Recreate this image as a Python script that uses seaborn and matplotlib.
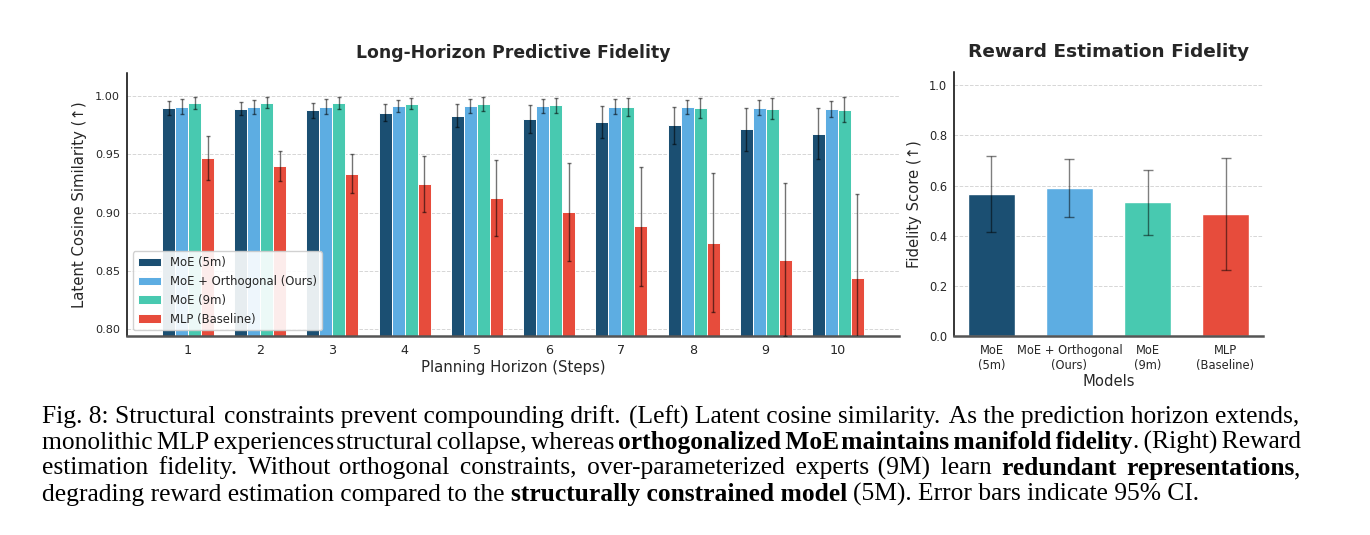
import matplotlib
matplotlib.use("Agg")
import matplotlib.pyplot as plt
import seaborn as sns
import numpy as np
import pandas as pd

# ---------------- data ----------------
steps = ["1", "2", "3", "4", "5", "6", "7", "8", "9", "10"]
models = ["MoE (5m)", "MoE + Orthogonal (Ours)", "MoE (9m)", "MLP (Baseline)"]
colors = ["#1B4F72", "#5DADE2", "#48C9B0", "#E74C3C"]

moe5_sim = [0.9903, 0.9894, 0.9880, 0.9860, 0.9834, 0.9802, 0.9780, 0.9750, 0.9716, 0.9680]
moe5_err = [0.0060, 0.0057, 0.0065, 0.0073, 0.0100, 0.0120, 0.0140, 0.0160, 0.0185, 0.0215]
ortho_sim = [0.9911, 0.9910, 0.9910, 0.9917, 0.9914, 0.9914, 0.9910, 0.9905, 0.9900, 0.9890]
ortho_err = [0.0065, 0.0060, 0.0065, 0.0055, 0.0060, 0.0060, 0.0063, 0.0060, 0.0065, 0.0069]
moe9_sim = [0.9943, 0.9946, 0.9940, 0.9937, 0.9930, 0.9923, 0.9910, 0.9900, 0.9894, 0.9885]
moe9_err = [0.0050, 0.0050, 0.0050, 0.0050, 0.0060, 0.0066, 0.0077, 0.0086, 0.0090, 0.0107]
mlp_sim = [0.9470, 0.9404, 0.9335, 0.9244, 0.9126, 0.9006, 0.8883, 0.8742, 0.8596, 0.8436]
mlp_err = [0.0190, 0.0130, 0.0166, 0.0240, 0.0327, 0.0420, 0.0510, 0.0595, 0.0660, 0.0720]

reward_labels = ["MoE\n(5m)", "MoE + Orthogonal\n(Ours)", "MoE\n(9m)", "MLP\n(Baseline)"]
reward_vals = [0.567, 0.591, 0.533, 0.487]
reward_err = [0.152, 0.116, 0.130, 0.223]

caption_lines = [
    "Fig. 8: Structural constraints prevent compounding drift. (Left) Latent cosine similarity. As the prediction horizon extends,",
    "monolithic MLP experiences structural collapse, whereas **orthogonalized MoE maintains manifold fidelity**. (Right) Reward",
    "estimation fidelity. Without orthogonal constraints, over-parameterized experts (9M) learn **redundant representations**,",
    "degrading reward estimation compared to the **structurally constrained model** (5M). Error bars indicate 95% CI.",
]

# ---------------- style ----------------
sns.set_style("white")
plt.rcParams["font.family"] = ["DejaVu Sans"]

W, H = 1370, 535
fig = plt.figure(figsize=(W / 100, H / 100), dpi=100)
fig.patch.set_facecolor("white")

def fx(px):
    return px / W

def fy(py):
    return 1 - py / H

ax1 = fig.add_axes([fx(127), fy(336), fx(899) - fx(127), fy(73) - fy(336)])
ax2 = fig.add_axes([fx(954), fy(336), fx(1263) - fx(954), fy(72) - fy(336)])

# ---------------- left panel ----------------
sims = [moe5_sim, ortho_sim, moe9_sim, mlp_sim]
errs = [moe5_err, ortho_err, moe9_err, mlp_err]
rows = []
for m, vals in zip(models, sims):
    for s, v in zip(steps, vals):
        rows.append({"step": s, "model": m, "value": v})
df = pd.DataFrame(rows)

sns.barplot(data=df, x="step", y="value", hue="model", order=steps, hue_order=models,
            palette=colors, saturation=1, width=0.72, gap=0, errorbar=None,
            edgecolor="white", linewidth=0.7, ax=ax1, zorder=2)

for cont, e in zip(ax1.containers, errs):
    xs = [p.get_x() + p.get_width() / 2 for p in cont.patches]
    hs = [p.get_height() for p in cont.patches]
    ax1.errorbar(xs, hs, yerr=e, fmt="none", ecolor="black", alpha=0.55,
                 elinewidth=1.0, capsize=1.6, capthick=1.0, zorder=3)

ax1.set_xlim(-0.846, 9.846)
ax1.set_ylim(0.794, 1.02)
ax1.set_yticks([0.80, 0.85, 0.90, 0.95, 1.00])
ax1.set_yticklabels(["0.80", "0.85", "0.90", "0.95", "1.00"])
ax1.set_title("Long-Horizon Predictive Fidelity", fontsize=12.4, fontweight="bold", pad=11)
ax1.set_xlabel("Planning Horizon (Steps)", fontsize=10.7, labelpad=2)
ax1.set_ylabel("Latent Cosine Similarity (↑)", fontsize=10.7, labelpad=6)
ax1.legend(loc="lower left", fontsize=8.4, framealpha=0.9, edgecolor="#cccccc",
           fancybox=True)

# ---------------- right panel ----------------
rdf = pd.DataFrame({"model": reward_labels, "value": reward_vals})
sns.barplot(data=rdf, x="model", y="value", hue="model", order=reward_labels,
            hue_order=reward_labels, palette=colors, saturation=1, width=0.6,
            errorbar=None, edgecolor="white", linewidth=1.0, legend=False, ax=ax2,
            zorder=2)
xs = []
hs = []
for cont in ax2.containers:
    for p in cont.patches:
        if p.get_height() > 0:
            xs.append(p.get_x() + p.get_width() / 2)
            hs.append(p.get_height())
ax2.errorbar(xs, hs, yerr=reward_err, fmt="none", ecolor="black", alpha=0.5,
             elinewidth=1.0, capsize=3.3, capthick=1.0, zorder=3)
ax2.set_ylim(0, 1.053)
ax2.set_yticks([0.0, 0.2, 0.4, 0.6, 0.8, 1.0])
ax2.set_yticklabels(["0.0", "0.2", "0.4", "0.6", "0.8", "1.0"])
ax2.set_title("Reward Estimation Fidelity", fontsize=13.3, fontweight="bold", pad=11)
ax2.set_xlabel("Models", fontsize=10.6, labelpad=1)
ax2.set_ylabel("Fidelity Score (↑)", fontsize=10.6, labelpad=5)

for ax, xfs, yfs in ((ax1, 9.2, 8.1), (ax2, 8.3, 8.3)):
    ax.set_axisbelow(True)
    ax.yaxis.grid(True, linestyle="--", color="#bbbbbb", alpha=0.6, linewidth=0.7)
    ax.xaxis.grid(False)
    for s in ("top", "right"):
        ax.spines[s].set_visible(False)
    ax.spines["left"].set_color("black")
    ax.spines["left"].set_linewidth(1.1)
    ax.spines["bottom"].set_color("#555555")
    ax.spines["bottom"].set_linewidth(1.8)
    ax.tick_params(axis="x", length=3, width=0.8, color="#555555", labelsize=xfs, pad=3)
    ax.tick_params(axis="y", length=0, labelsize=yfs, pad=5)

# ---------------- caption ----------------
renderer = fig.canvas.get_renderer()
CAP_FAMILY = ["Liberation Serif", "DejaVu Serif"]
HAIR = "\u200a"

def parse(line):
    words = []
    cur = []
    segs = line.split("**")
    for si, seg in enumerate(segs):
        bold = si % 2 == 1
        parts = seg.split(" ")
        for pi, part in enumerate(parts):
            if pi > 0:
                if cur:
                    words.append(cur)
                cur = []
            if part:
                cur.append((part, bold))
    if cur:
        words.append(cur)
    return words

def width(s, size, bold):
    t = fig.text(0, 0, s, fontsize=size, family=CAP_FAMILY,
                 fontweight="bold" if bold else "normal")
    w = t.get_window_extent(renderer).width
    t.remove()
    return w

def gap_w(s, size, bold=False):
    return width("x" + s + "x", size, bold) - width("xx", size, bold)

parsed = [parse(l) for l in caption_lines]

def natural(words, size):
    return sum(width(r, size, b) for w in words for r, b in w) + gap_w(" ", size) * (len(words) - 1)

x_left, x_right = 41.7, 1300.0
base = 10.0
fsize = base * (1199.0 - x_left) / natural(parsed[-1], base)
baselines = [423.3, 449.0, 475.0, 500.5]
sw = gap_w(" ", fsize, False)
hw = {False: gap_w(HAIR, fsize, False), True: gap_w(HAIR, fsize, True)}

for li, (words, yb) in enumerate(zip(parsed, baselines)):
    G = len(words) - 1
    wwidths = [sum(width(r, fsize, b) for r, b in w) for w in words]
    if li < len(parsed) - 1:
        g = (x_right - x_left - sum(wwidths)) / G
    else:
        g = sw
    # target start of each word
    targets = [x_left + sum(wwidths[:i]) + i * g for i in range(len(words))]
    chunks = []  # [bold, text, x_start]
    x = x_left
    for wi, w in enumerate(words):
        if wi > 0:
            b_next = w[0][1]
            b_prev = words[wi - 1][-1][1]
            same = chunks[-1][0] == b_next
            hwid = hw[b_next] if same else hw[False]
            n = max(0, int(round((targets[wi] - x) / hwid)))
            gap_str = HAIR * n
            x += n * hwid
        for ri, (r, b) in enumerate(w):
            if chunks and chunks[-1][0] == b:
                if wi > 0 and ri == 0:
                    chunks[-1][1] += gap_str + r
                else:
                    chunks[-1][1] += r
            else:
                chunks.append([b, r, x])
            x += width(r, fsize, b)
    for b, txt, xs0 in chunks:
        fig.text(fx(xs0), fy(yb), txt, fontsize=fsize, family=CAP_FAMILY,
                 fontweight="bold" if b else "normal", va="baseline", ha="left",
                 color="black")

fig.savefig("out.png", dpi=100, facecolor="white")
